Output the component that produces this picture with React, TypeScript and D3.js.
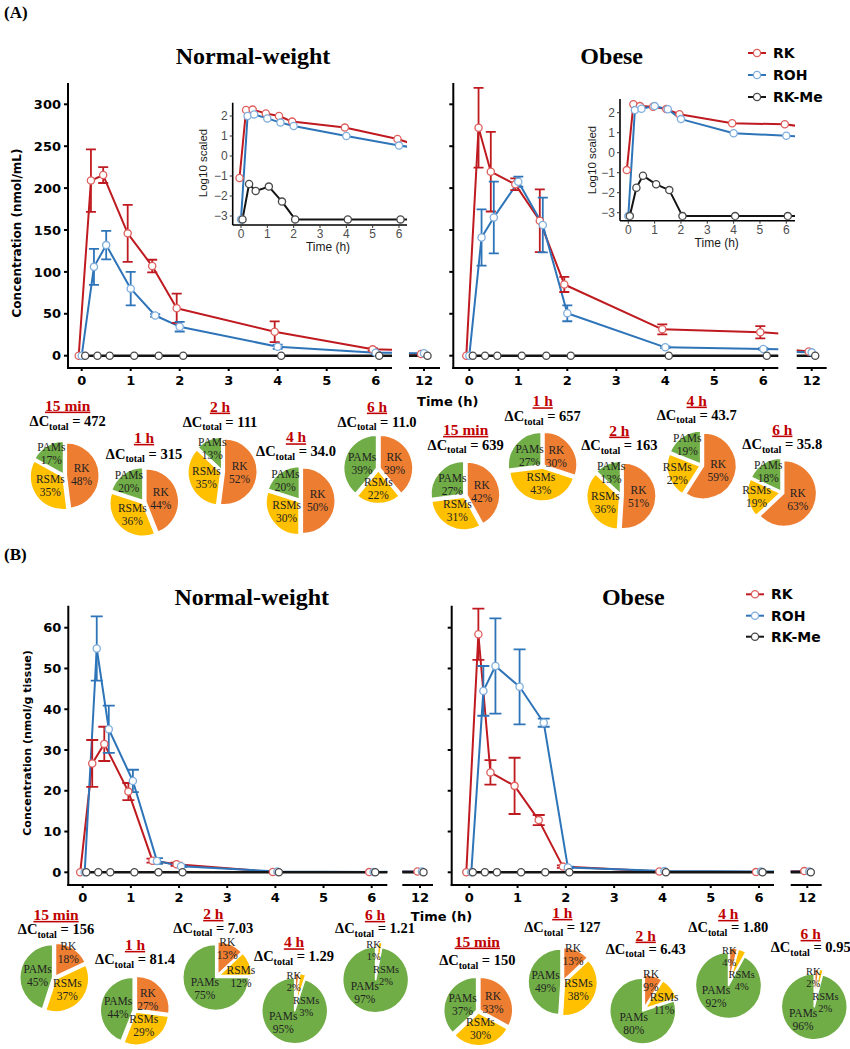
import React from "react";
import * as d3 from "d3";

// ---------------- DATA ----------------
const TIMES = [0, 0.25, 0.5, 1, 1.5, 2, 4, 6, 12];
const X_TICKS = [0, 1, 2, 3, 4, 5, 6];
const BREAK_TICK = 12;
const SERIES = ["RK", "ROH", "RK-Me"];

// (A) plasma, nmol/mL
const A_NW_RK = [0, 209, 215.6, 146, 107, 56.6, 28.6, 7.6, 2];
const A_NW_RK_SD = [0, 37.3, 9.5, 34, 7.5, 17.5, 12.3, 1.5, 0];
const A_NW_ROH = [0, 106, 132, 80, 48, 34.6, 10.7, 3.6, 3];
const A_NW_ROH_SD = [0, 21.5, 17, 20, 1.5, 5.7, 2.5, 1, 0];
const A_NW_RKME = [0, 0, 0, 0, 0, 0, 0, 0, 0];
const A_OB_RK = [0, 272, 219.6, 204.5, 161, 85, 31.5, 28, 5];
const A_OB_RK_SD = [0, 47.5, 47.5, 7, 37.5, 9, 6, 7.3, 0];
const A_OB_ROH = [0, 141, 165, 207.6, 156, 50.6, 10, 8, 4];
const A_OB_ROH_SD = [0, 33.5, 42.8, 6, 32.7, 9.5, 1, 1, 0];
const A_OB_RKME = [0, 0, 0, 0, 0, 0, 0, 0, 0];
const ZERO_SD = [0, 0, 0, 0, 0, 0, 0, 0, 0];
const A_Y_TICKS = [0, 50, 100, 150, 200, 250, 300];

// (A) insets, log10 scaled
const IN_NW_RK = [-1.1, 2.3, 2.32, 2.13, 2.0, 1.72, 1.42, 0.85, -1.75];
const IN_NW_ROH = [-3.17, 2.0, 2.08, 1.88, 1.67, 1.5, 1.0, 0.52, -0.5];
const IN_NW_RKME = [-3.17, -1.4, -1.75, -1.53, -2.28, -3.17, -3.17, -3.17, -3.17];
const IN_OB_RK = [-0.87, 2.42, 2.33, 2.3, 2.18, 1.92, 1.47, 1.42, 0.4];
const IN_OB_ROH = [-3.17, 2.13, 2.2, 2.33, 2.17, 1.68, 0.97, 0.85, 0.25];
const IN_OB_RKME = [-3.17, -1.75, -1.15, -1.58, -1.87, -3.17, -3.17, -3.17, -3.17];
const INSET_Y_TICKS = [-3, -2, -1, 0, 1, 2];

// (B) tissue, nmol/g tissue
const B_NW_RK = [0, 26.7, 31.5, 19.8, 2.85, 1.96, 0.1, 0.05, 0.2];
const B_NW_RK_SD = [0, 5.75, 4.2, 2.1, 0.5, 0.4, 0, 0, 0];
const B_NW_ROH = [0, 54.9, 35.1, 22.4, 2.8, 1.5, 0.2, 0.1, 0.2];
const B_NW_ROH_SD = [0, 7.9, 5.8, 2.75, 0.7, 0.2, 0, 0, 0];
const B_NW_RKME = [0, 0, 0, 0, 0, 0, 0, 0, 0];
const B_OB_RK = [0, 58.4, 24.5, 21.2, 12.8, 1.4, 0.2, 0.05, 0.3];
const B_OB_RK_SD = [0, 6.3, 3, 6.9, 1.25, 0.3, 0, 0, 0];
const B_OB_ROH = [0, 44.5, 50.6, 45.5, 36.7, 1.2, 0.3, 0.2, 0.2];
const B_OB_ROH_SD = [0, 6.1, 11.7, 9.2, 1, 0.2, 0, 0, 0];
const B_OB_RKME = [0, 0, 0, 0, 0, 0, 0, 0, 0];
const B_Y_TICKS = [0, 10, 20, 30, 40, 50, 60];

// Pies
const PIE_TIMES = ["15 min", "1 h", "2 h", "4 h", "6 h"];
const PIE_NAMES = ["RK", "RSMs", "PAMs"];
const PIE_A_NW_RK = [48, 44, 52, 50, 39];
const PIE_A_NW_RSM = [35, 36, 35, 30, 22];
const PIE_A_NW_PAM = [17, 20, 13, 20, 39];
const PIE_A_NW_DC = ["472", "315", "111", "34.0", "11.0"];
const PIE_A_OB_RK = [42, 30, 51, 59, 63];
const PIE_A_OB_RSM = [31, 43, 36, 22, 19];
const PIE_A_OB_PAM = [27, 27, 13, 19, 18];
const PIE_A_OB_DC = ["639", "657", "163", "43.7", "35.8"];
const PIE_B_NW_RK = [18, 27, 13, 2, 1];
const PIE_B_NW_RSM = [37, 29, 12, 3, 2];
const PIE_B_NW_PAM = [45, 44, 75, 95, 97];
const PIE_B_NW_DC = ["156", "81.4", "7.03", "1.29", "1.21"];
const PIE_B_OB_RK = [33, 13, 9, 4, 2];
const PIE_B_OB_RSM = [30, 38, 11, 4, 2];
const PIE_B_OB_PAM = [37, 49, 80, 92, 96];
const PIE_B_OB_DC = ["150", "127", "6.43", "1.80", "0.95"];

// ---------------- STYLE / LAYOUT ----------------
const SANS = "'DejaVu Sans', Verdana, sans-serif";
const SERIF = "'Liberation Serif', 'Times New Roman', serif";
const ARIAL = "'Liberation Sans', Arial, sans-serif";
const LINE_COLORS = ["#BF1A20", "#2E74B8", "#141414"];
const POINT_STROKES = ["#DD5F5E", "#7FAEDD", "#4a4a4a"];
const LINE_WIDTHS = [2, 2, 2.6];
const PIE_COLORS = ["#ED7D31", "#FFC000", "#70AD47"];
const TITLE_RED = "#C00000";

type PlotLayout = {
  xL: number; xR: number; x0: number; x6: number;
  segL: number; segR: number; x12: number;
  yTop: number; yBot: number; y0: number; yMaxPx: number;
  dodge: number[]; cap: number;
};

const L_A_NW: PlotLayout = { xL: 68, xR: 392, x0: 81.7, x6: 375.7, segL: 409, segR: 440, x12: 424, yTop: 83, yBot: 368, y0: 355.7, yMaxPx: 104.3, dodge: [-3, 0, 3.5], cap: 5 };
const L_A_OB: PlotLayout = { xL: 453.3, xR: 778.3, x0: 469.3, x6: 763.3, segL: 796.7, segR: 826.7, x12: 811.7, yTop: 83, yBot: 368, y0: 355.7, yMaxPx: 104.3, dodge: [-3, 0, 3.5], cap: 5 };
const L_B_NW: PlotLayout = { xL: 68.3, xR: 387.3, x0: 82.7, x6: 371.7, segL: 402.3, segR: 433, x12: 420, yTop: 605.7, yBot: 885, y0: 872.3, yMaxPx: 627.7, dodge: [-2.5, 2, 3.5], cap: 6 };
const L_B_OB: PlotLayout = { xL: 451.7, xR: 774, x0: 469.3, x6: 759, segL: 790.7, segR: 821.7, x12: 807.3, yTop: 605.7, yBot: 885, y0: 872.3, yMaxPx: 627.7, dodge: [-3, 2, 3.5], cap: 6 };

type InsetLayout = { xL: number; xR: number; x0: number; x6: number; yTop: number; yBot: number; yM3: number; y2: number; logX: number; logY: number; timeX: number; timeY: number };
const I_NW: InsetLayout = { xL: 232.7, xR: 407, x0: 241, x6: 399, yTop: 102.7, yBot: 225, yM3: 216, y2: 116, logX: 203, logY: 163, timeX: 328, timeY: 247 };
const I_OB: InsetLayout = { xL: 620, xR: 795, x0: 628.3, x6: 786.3, yTop: 99, yBot: 220.7, yM3: 212.7, y2: 112.7, logX: 591.7, logY: 160, timeX: 716.7, timeY: 243 };

// pie placement: [cx, cy, titleX, titleY, dcY]
const PIE_POS_A_NW = [[64.5, 475.8, 67.7, 405, 421], [144, 502, 144, 437.3, 453.3], [222.5, 471.7, 220, 406, 421.7], [300.5, 500.8, 296, 436.7, 451], [378.3, 468.8, 377, 406, 421.7]];
const PIE_POS_A_OB = [[465.2, 495.5, 465.7, 429.3, 444.5], [542.5, 466.3, 542.7, 400.7, 416], [621.3, 495.8, 619.3, 430, 445], [701.7, 465.5, 696.7, 400, 414.5], [782, 492.8, 782.3, 429, 444]];
const PIE_POS_B_NW = [[54.5, 977.8, 56, 914.3, 929], [135, 1010.5, 135, 944.3, 959], [217, 976.3, 213.3, 913.3, 927.5], [295, 1009, 294, 941.7, 956], [375.8, 978, 375, 914.3, 928]];
const PIE_POS_B_OB = [[478.3, 1011, 477.3, 941, 960], [562.8, 982, 562.3, 912.3, 927], [643.8, 1009.5, 645.7, 935, 948.5], [729, 983.7, 728.3, 913.3, 927], [814.5, 1005, 810.7, 933.3, 947]];
const PIE_R = 33;

// ---------------- COMPONENTS ----------------
function ConcPlot({ L, vals, sds, yTicks, showYLabels, cid }: { L: PlotLayout; vals: number[][]; sds: number[][]; yTicks: number[]; showYLabels: boolean; cid: string }) {
  const x = d3.scaleLinear().domain([0, 6]).range([L.x0, L.x6]);
  const x12 = d3.scaleLinear().domain([11.5, 12.5]).range([L.x12 - 15, L.x12 + 15]);
  const y = d3.scaleLinear().domain([0, yTicks[yTicks.length - 1]]).range([L.y0, L.yMaxPx]);
  const parts = [
    { key: "m", xs: x, l: L.xL + 1, r: L.xR },
    { key: "s", xs: x12, l: L.segL, r: L.segR },
  ];
  return (
    <g>
      <defs>
        {parts.map((p) => (
          <clipPath id={`${cid}-${p.key}`} key={p.key}>
            <rect x={p.l} y={L.yTop - 30} width={p.r - p.l} height={L.yBot - L.yTop + 28.5} />
          </clipPath>
        ))}
      </defs>
      {parts.map((p) => {
        const px = (s: number, i: number) => p.xs(TIMES[i]) + L.dodge[s];
        return (
          <g key={p.key} clipPath={`url(#${cid}-${p.key})`}>
            {vals.map((v, s) => {
              const line = d3.line<number>().x((_, i) => px(s, i)).y((d) => y(d));
              return <path key={"l" + s} d={line(v) || ""} fill="none" stroke={LINE_COLORS[s]} strokeWidth={LINE_WIDTHS[s]} strokeLinejoin="round" />;
            })}
            {vals.map((v, s) =>
              v.map((d, i) => {
                const sd = sds[s][i];
                if (!sd) return null;
                const cx = px(s, i);
                return (
                  <g key={`e${s}-${i}`} stroke={LINE_COLORS[s]} strokeWidth={1.8}>
                    <line x1={cx} x2={cx} y1={y(d - sd)} y2={y(d + sd)} />
                    <line x1={cx - L.cap} x2={cx + L.cap} y1={y(d + sd)} y2={y(d + sd)} />
                    <line x1={cx - L.cap} x2={cx + L.cap} y1={y(d - sd)} y2={y(d - sd)} />
                  </g>
                );
              })
            )}
            {vals.map((v, s) =>
              v.map((d, i) => (
                <circle key={`p${s}-${i}`} cx={px(s, i)} cy={y(d)} r={3.6} fill="#fff" stroke={POINT_STROKES[s]} strokeWidth={1.3} />
              ))
            )}
          </g>
        );
      })}
      {/* axes */}
      <g stroke="#000" strokeWidth={2}>
        <line x1={L.xL} x2={L.xL} y1={L.yTop} y2={L.yBot + 1} />
        <line x1={L.xL - 1} x2={L.xR} y1={L.yBot} y2={L.yBot} />
        <line x1={L.segL} x2={L.segR} y1={L.yBot} y2={L.yBot} />
        {yTicks.map((t) => (
          <line key={t} x1={L.xL - 4} x2={L.xL} y1={y(t)} y2={y(t)} />
        ))}
        {X_TICKS.map((t) => (
          <line key={t} x1={x(t)} x2={x(t)} y1={L.yBot} y2={L.yBot + 3} />
        ))}
        <line x1={x12(BREAK_TICK)} x2={x12(BREAK_TICK)} y1={L.yBot} y2={L.yBot + 3} />
      </g>
      <g fontFamily={SANS} fontWeight="bold" fontSize={13} fill="#000">
        {showYLabels &&
          yTicks.map((t) => (
            <text key={t} x={L.xL - 7} y={y(t)} dy="0.36em" textAnchor="end">{t}</text>
          ))}
        {X_TICKS.map((t) => (
          <text key={t} x={x(t)} y={L.yBot + 12} dy="0.36em" textAnchor="middle">{t}</text>
        ))}
        <text x={x12(BREAK_TICK)} y={L.yBot + 12} dy="0.36em" textAnchor="middle">{BREAK_TICK}</text>
      </g>
    </g>
  );
}

function Inset({ I, vals, cid }: { I: InsetLayout; vals: number[][]; cid: string }) {
  const x = d3.scaleLinear().domain([0, 6]).range([I.x0, I.x6]);
  const y = d3.scaleLinear().domain([-3, 2]).range([I.yM3, I.y2]);
  const dodge = [-1.5, 0, 1.5];
  return (
    <g>
      <defs>
        <clipPath id={cid}>
          <rect x={I.xL + 0.8} y={I.yTop - 10} width={I.xR - I.xL - 0.8} height={I.yBot - I.yTop + 9} />
        </clipPath>
      </defs>
      <g clipPath={`url(#${cid})`}>
        {vals.map((v, s) => {
          const line = d3.line<number>().x((_, i) => x(TIMES[i]) + dodge[s]).y((d) => y(d));
          return <path key={"l" + s} d={line(v) || ""} fill="none" stroke={LINE_COLORS[s]} strokeWidth={2} strokeLinejoin="round" />;
        })}
        {vals.map((v, s) =>
          v.map((d, i) => (
            <circle key={`p${s}-${i}`} cx={x(TIMES[i]) + dodge[s]} cy={y(d)} r={3.6} fill="#fff" stroke={POINT_STROKES[s]} strokeWidth={1.3} />
          ))
        )}
      </g>
      <g stroke="#000" strokeWidth={1.6}>
        <line x1={I.xL} x2={I.xL} y1={I.yTop} y2={I.yBot} />
        <line x1={I.xL} x2={I.xR} y1={I.yBot} y2={I.yBot} />
      </g>
      <g stroke="#333" strokeWidth={1}>
        {INSET_Y_TICKS.map((t) => (
          <line key={t} x1={I.xL - 3} x2={I.xL} y1={y(t)} y2={y(t)} />
        ))}
        {X_TICKS.map((t) => (
          <line key={t} x1={x(t)} x2={x(t)} y1={I.yBot} y2={I.yBot + 3} />
        ))}
      </g>
      <g fontFamily={ARIAL} fontSize={12} fill="#4D4D4D">
        {INSET_Y_TICKS.map((t) => (
          <text key={t} x={I.xL - 5} y={y(t)} dy="0.36em" textAnchor="end">{t < 0 ? "\u2212" + Math.abs(t) : t}</text>
        ))}
        {X_TICKS.map((t) => (
          <text key={t} x={x(t)} y={I.yBot + 9} dy="0.36em" textAnchor="middle">{t}</text>
        ))}
      </g>
      <text x={I.timeX} y={I.timeY} dy="0.36em" textAnchor="middle" fontFamily={ARIAL} fontSize={12} fill="#1a1a1a">Time (h)</text>
      <text transform={`translate(${I.logX},${I.logY}) rotate(-90)`} dy="0.36em" textAnchor="middle" fontFamily={ARIAL} fontSize={11.5} fill="#1a1a1a">Log10 scaled</text>
    </g>
  );
}

function Legend({ x, ys }: { x: number; ys: number[] }) {
  return (
    <g>
      {SERIES.map((s, i) => (
        <g key={s}>
          <line x1={x} x2={x + 18} y1={ys[i]} y2={ys[i]} stroke={LINE_COLORS[i]} strokeWidth={2} />
          <circle cx={x + 9} cy={ys[i]} r={3.6} fill="#fff" stroke={POINT_STROKES[i]} strokeWidth={1.3} />
          <text x={x + 25} y={ys[i]} dy="0.36em" fontFamily={SANS} fontWeight="bold" fontSize={14} fill="#000">{s}</text>
        </g>
      ))}
    </g>
  );
}

function Pie({ pos, vals, label, dc }: { pos: number[]; vals: number[]; label: string; dc: string }) {
  const [cx, cy, tx, ty, dy] = pos;
  const r = PIE_R;
  const arcs = d3.pie<number>().sort(null).value((d) => d)(vals);
  const arc = d3.arc<d3.PieArcDatum<number>>().innerRadius(0).outerRadius(r);
  return (
    <g>
      <text x={tx} y={ty} dy="0.36em" textAnchor="middle" fontFamily={SERIF} fontWeight="bold" fontSize={15.5} fill={TITLE_RED} style={{ textDecoration: "underline" }}>{label}</text>
      <text x={tx} y={dy} dy="0.36em" textAnchor="middle" fontFamily={SERIF} fontWeight="bold" fontSize={14.5} fill="#000">
        <tspan>ΔC</tspan>
        <tspan fontSize={10} dy={3.5}>total</tspan>
        <tspan dy={-3.5}>{" = " + dc}</tspan>
      </text>
      <g transform={`translate(${cx},${cy})`}>
        {arcs.map((a, i) => {
          const mid = (a.startAngle + a.endAngle) / 2;
          const e = a.value < 6 ? 3 : 1.8;
          return (
            <path key={i} d={arc(a) || ""} transform={`translate(${Math.sin(mid) * e},${-Math.cos(mid) * e})`} fill={PIE_COLORS[i]} stroke="#fff" strokeWidth={1.6} strokeLinejoin="round" />
          );
        })}
        {arcs.map((a, i) => {
          const p = a.value / 100;
          const mid = (a.startAngle + a.endAngle) / 2;
          let ang = mid;
          let rr = 0.52 * r;
          let dyo = 0;
          let lx: number;
          let ly: number;
          let fs = 11.5;
          let gap = 6.5;
          if (p < 0.06) {
            fs = 10.5;
            gap = 6;
            if (i === 0) {
              lx = Math.sin(ang) * 0.8 * r - 3;
              ly = -Math.cos(ang) * 0.8 * r - 1;
            } else {
              lx = Math.sin(ang) * 0.3 * r + 9;
              ly = -3;
            }
          } else {
            if (p < 0.25) {
              rr = 0.78 * r;
              if (i === 0) dyo = -4;
              if (i === 1) {
                if (mid < Math.PI / 2) dyo = 10;
                else if (mid > 0.75 * Math.PI && mid < 1.25 * Math.PI) rr = 0.6 * r;
              }
            } else if (p > 0.85) {
              ang = mid + 0.55;
              rr = 0.55 * r;
            }
            lx = Math.sin(ang) * rr;
            ly = -Math.cos(ang) * rr + dyo;
          }
          return (
            <g key={"t" + i} fontFamily={SERIF} fontSize={fs} fill="#222" textAnchor="middle">
              <text x={lx} y={ly - gap} dy="0.36em">{PIE_NAMES[i]}</text>
              <text x={lx} y={ly + gap} dy="0.36em">{a.value + "%"}</text>
            </g>
          );
        })}
      </g>
    </g>
  );
}

function PieRow({ layout, rk, rsm, pam, dc }: { layout: number[][]; rk: number[]; rsm: number[]; pam: number[]; dc: string[] }) {
  return (
    <g>
      {PIE_TIMES.map((t, i) => (
        <Pie key={t} pos={layout[i]} vals={[rk[i], rsm[i], pam[i]]} label={t} dc={dc[i]} />
      ))}
    </g>
  );
}

export default function App() {
  return (
    <svg width={850} height={1049} viewBox="0 0 850 1049" style={{ position: "absolute", left: 0, top: 0, background: "#fff" }}>
      <rect x={0} y={0} width={850} height={1049} fill="#fff" />
      {/* Panel labels */}
      <text x={4} y={18} fontFamily={SERIF} fontWeight="bold" fontSize={17}>(A)</text>
      <text x={4} y={560} fontFamily={SERIF} fontWeight="bold" fontSize={17}>(B)</text>

      {/* Titles */}
      <g fontFamily={SERIF} fontWeight="bold" fontSize={24} textAnchor="middle" fill="#000">
        <text x={253} y={64}>Normal-weight</text>
        <text x={611.7} y={64}>Obese</text>
        <text x={251.7} y={605}>Normal-weight</text>
        <text x={633.3} y={605}>Obese</text>
      </g>

      {/* Panel A plots */}
      <ConcPlot L={L_A_NW} vals={[A_NW_RK, A_NW_ROH, A_NW_RKME]} sds={[A_NW_RK_SD, A_NW_ROH_SD, ZERO_SD]} yTicks={A_Y_TICKS} showYLabels={true} cid="anw" />
      <ConcPlot L={L_A_OB} vals={[A_OB_RK, A_OB_ROH, A_OB_RKME]} sds={[A_OB_RK_SD, A_OB_ROH_SD, ZERO_SD]} yTicks={A_Y_TICKS} showYLabels={false} cid="aob" />
      <Inset I={I_NW} vals={[IN_NW_RK, IN_NW_ROH, IN_NW_RKME]} cid="inw" />
      <Inset I={I_OB} vals={[IN_OB_RK, IN_OB_ROH, IN_OB_RKME]} cid="iob" />
      <Legend x={748} ys={[53, 75, 97]} />
      <text transform="translate(17,233) rotate(-90)" dy="0.36em" textAnchor="middle" fontFamily={SANS} fontWeight="bold" fontSize={12}>Concentration (nmol/mL)</text>
      <text x={447.7} y={401.7} dy="0.36em" textAnchor="middle" fontFamily={SANS} fontWeight="bold" fontSize={13}>Time (h)</text>

      {/* Panel A pies */}
      <PieRow layout={PIE_POS_A_NW} rk={PIE_A_NW_RK} rsm={PIE_A_NW_RSM} pam={PIE_A_NW_PAM} dc={PIE_A_NW_DC} />
      <PieRow layout={PIE_POS_A_OB} rk={PIE_A_OB_RK} rsm={PIE_A_OB_RSM} pam={PIE_A_OB_PAM} dc={PIE_A_OB_DC} />

      {/* Panel B plots */}
      <ConcPlot L={L_B_NW} vals={[B_NW_RK, B_NW_ROH, B_NW_RKME]} sds={[B_NW_RK_SD, B_NW_ROH_SD, ZERO_SD]} yTicks={B_Y_TICKS} showYLabels={true} cid="bnw" />
      <ConcPlot L={L_B_OB} vals={[B_OB_RK, B_OB_ROH, B_OB_RKME]} sds={[B_OB_RK_SD, B_OB_ROH_SD, ZERO_SD]} yTicks={B_Y_TICKS} showYLabels={false} cid="bob" />
      <Legend x={746} ys={[594.3, 615.7, 636.7]} />
      <text transform="translate(26.7,743) rotate(-90)" dy="0.36em" textAnchor="middle" fontFamily={SANS} fontWeight="bold" fontSize={11}>Concentration (nmol/g tissue)</text>
      <text x={441.5} y={916} dy="0.36em" textAnchor="middle" fontFamily={SANS} fontWeight="bold" fontSize={13}>Time (h)</text>

      {/* Panel B pies */}
      <PieRow layout={PIE_POS_B_NW} rk={PIE_B_NW_RK} rsm={PIE_B_NW_RSM} pam={PIE_B_NW_PAM} dc={PIE_B_NW_DC} />
      <PieRow layout={PIE_POS_B_OB} rk={PIE_B_OB_RK} rsm={PIE_B_OB_RSM} pam={PIE_B_OB_PAM} dc={PIE_B_OB_DC} />
    </svg>
  );
}
